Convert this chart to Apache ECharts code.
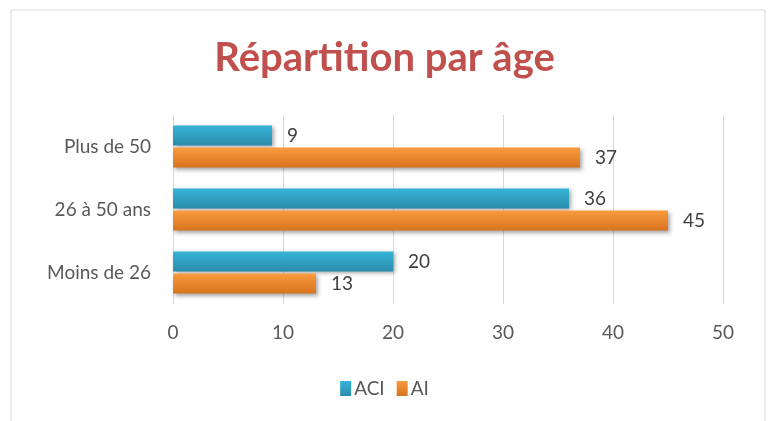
<!DOCTYPE html>
<html>
<head>
<meta charset="utf-8">
<script src="https://cdn.jsdelivr.net/npm/echarts@6/dist/echarts.min.js"></script>
<style>
  html, body { margin: 0; padding: 0; background: #fff; }
  #main { width: 769px; height: 421px; }
</style>
</head>
<body>
<div id="main"></div>
<script>
const categories = ['Moins de 26', '26 à 50 ans', 'Plus de 50']
const aciValues = [20, 36, 9]
const aiValues = [13, 45, 37]
const xTicks = { min: 0, max: 50, interval: 10 }

const font = 'Lato, "Open Sans", sans-serif'

function grad(top, bottom) {
  return new echarts.graphic.LinearGradient(0, 0, 0, 1, [
    { offset: 0, color: top },
    { offset: 1, color: bottom }
  ])
}

const myChart = echarts.init(document.getElementById('main'))

const option = {
  backgroundColor: '#fff',
  animation: false,
  graphic: [
    {
      type: 'rect',
      shape: { x: 11, y: 10, width: 754, height: 420 },
      style: { fill: 'none', stroke: '#d9d9d9', lineWidth: 1 },
      silent: true
    }
  ],
  title: {
    text: 'Répartition par âge',
    left: 'center',
    top: 33,
    textStyle: { fontFamily: font, fontSize: 40, fontWeight: 'bold', color: '#C0504D' }
  },
  legend: {
    bottom: 18,
    left: 'center',
    icon: 'rect',
    itemWidth: 11,
    itemHeight: 15,
    itemGap: 12,
    data: ['ACI', 'AI'],
    textStyle: { fontFamily: font, fontSize: 19, color: '#595959', padding: [0, 0, 0, -2] }
  },
  grid: { left: 173, right: 46, top: 115, bottom: 117 },
  xAxis: {
    type: 'value',
    min: xTicks.min,
    max: xTicks.max,
    interval: xTicks.interval,
    axisLine: { show: false },
    axisTick: { show: false },
    axisLabel: { fontFamily: font, fontSize: 19, color: '#595959', margin: 19 },
    splitLine: { show: true, lineStyle: { color: '#d9d9d9', width: 1 } }
  },
  yAxis: {
    type: 'category',
    data: categories,
    axisLine: { show: false },
    axisTick: { show: false },
    axisLabel: { fontFamily: font, fontSize: 19, color: '#595959', margin: 22 }
  },
  series: [
    {
      name: 'ACI',
      type: 'bar',
      data: aciValues,
      barGap: '10%',
      barCategoryGap: '33%',
      itemStyle: {
        color: grad('#36B4D8', '#2A8CAB'),
        shadowColor: 'rgba(0,0,0,0.35)',
        shadowBlur: 4,
        shadowOffsetX: 2,
        shadowOffsetY: 2
      },
      label: { show: true, position: 'right', distance: 15, fontFamily: font, fontSize: 19, color: '#404040' }
    },
    {
      name: 'AI',
      type: 'bar',
      data: aiValues,
      barGap: '10%',
      barCategoryGap: '33%',
      itemStyle: {
        color: grad('#F99B3E', '#D8731F'),
        shadowColor: 'rgba(0,0,0,0.35)',
        shadowBlur: 4,
        shadowOffsetX: 2,
        shadowOffsetY: 2
      },
      label: { show: true, position: 'right', distance: 15, fontFamily: font, fontSize: 19, color: '#404040' }
    }
  ]
}

option && myChart.setOption(option)
</script>
</body>
</html>
